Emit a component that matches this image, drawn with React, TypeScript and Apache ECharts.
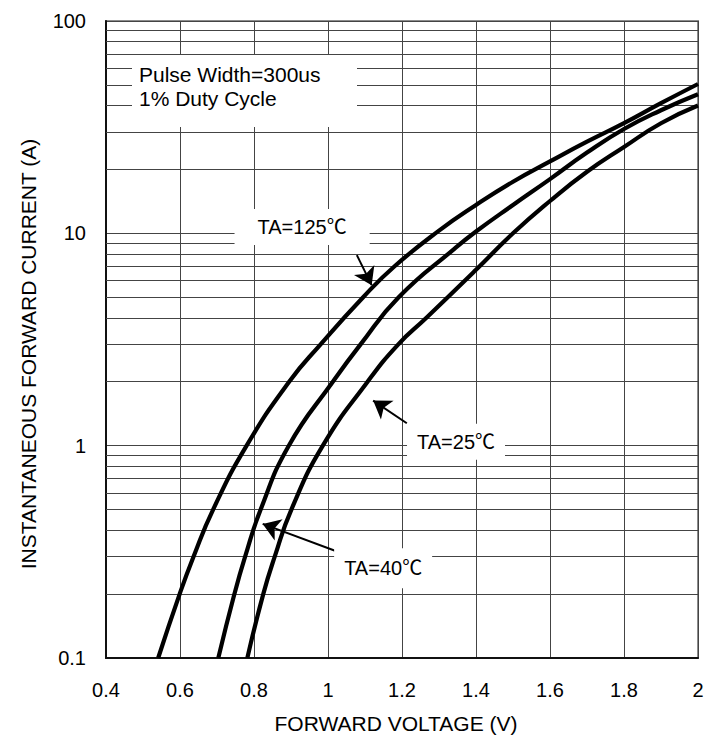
import React, { useEffect, useRef } from 'react';
import * as echarts from 'echarts';

// ---- data ----
const xMin = 0.4;
const xMax = 2;
const xStep = 0.2;
const yMin = 0.1;
const yMax = 100;
const minorGridValues = [0.2, 0.3, 0.4, 0.5, 0.6, 0.7, 0.8, 0.9, 2, 3, 4, 5, 6, 7, 8, 9, 20, 30, 40, 50, 60, 70, 80, 90];

// TA = 125 °C
const curve125: [number, number][] = [
  [0.541, 0.1], [0.599, 0.2], [0.6365, 0.3], [0.6895, 0.5], [0.78, 1.0], [0.895, 2],
  [0.98, 3], [1.095, 5], [1.18, 7], [1.3, 10.3], [1.4, 13.6], [1.5, 17.5], [1.6, 21.8],
  [1.7, 27], [1.8, 33], [1.9, 41], [2.0, 50.5],
];
// TA = 40 °C
const curve40: [number, number][] = [
  [0.7035, 0.1], [0.747, 0.2], [0.776, 0.3], [0.818, 0.5], [0.894, 1.0], [1.013, 2],
  [1.088, 3], [1.191, 5], [1.343, 8.5], [1.4, 10.2], [1.5, 13.6], [1.6, 18.0],
  [1.7, 24], [1.8, 31], [1.9, 38], [2.0, 45.2],
];
// TA = 25 °C
const curve25: [number, number][] = [
  [0.782, 0.1], [0.825, 0.2], [0.856, 0.3], [0.901, 0.5], [0.986, 1.0],
  [1.107, 2], [1.19, 3], [1.266, 4], [1.4, 6.73], [1.5, 10], [1.6, 14.2], [1.7, 19.5],
  [1.8, 25.5], [1.9, 33], [2.0, 40],
];

const curveLabels = ['TA=125℃', 'TA=25℃', 'TA=40℃'];
const labelAnchors: [number, number][] = [[0.93, 10.7], [1.346, 1.044], [1.149, 0.2646]];
const arrowFrom: [number, number][] = [[1.078, 7.9], [1.213, 1.275], [1.019, 0.32]];
const arrowTo: [number, number][] = [[1.118, 5.7], [1.122, 1.63], [0.8235, 0.428]];

const noteLines = ['Pulse Width=300us', '1% Duty Cycle'];
const xTitle = 'FORWARD VOLTAGE (V)';
const yTitle = 'INSTANTANEOUS FORWARD CURRENT (A)';

// ---- layout / style ----
const FONT = '"Liberation Sans", Arial, "Noto Sans CJK SC", sans-serif';
const W = 718;
const H = 741;
const GRID = { left: 106, top: 21, right: 20, bottom: 83 };
const labelPadding: [number, number][] = [[8, 23], [8, 10], [10, 10]];
const GRIDLINE = '#444';

const fmt = (v: number) => String(parseFloat(Number(v).toPrecision(6)));

export default function App() {
  const ref = useRef<HTMLDivElement>(null);

  useEffect(() => {
    if (!ref.current) return;
    const chart = echarts.init(ref.current, undefined, { renderer: 'svg' });

    const curveSeries = (data: [number, number][], name: string) => ({
      type: 'line',
      name,
      data,
      smooth: 0.5,
      showSymbol: false,
      symbol: 'none',
      z: 3,
      lineStyle: { color: '#000', width: 4.2 },
      silent: true,
    });

    chart.setOption({
      animation: false,
      backgroundColor: '#fff',
      grid: {
        ...GRID,
        show: true,
        borderColor: '#8c8c8c',
        borderWidth: 2,
        backgroundColor: 'transparent',
      },
      xAxis: {
        type: 'value',
        min: xMin,
        max: xMax,
        interval: xStep,
        axisLine: { show: true, lineStyle: { color: '#111', width: 2 } },
        axisTick: { show: false },
        splitLine: { show: true, lineStyle: { color: GRIDLINE, width: 1 } },
        axisLabel: {
          color: '#000',
          fontSize: 20,
          fontFamily: FONT,
          margin: 22,
          formatter: (v: number) => fmt(v),
        },
      },
      yAxis: {
        type: 'log',
        logBase: 10,
        min: yMin,
        max: yMax,
        axisLine: { show: true, lineStyle: { color: '#111', width: 2 } },
        axisTick: { show: false },
        splitLine: { show: true, lineStyle: { color: GRIDLINE, width: 1 } },
        axisLabel: {
          color: '#000',
          fontSize: 20,
          fontFamily: FONT,
          margin: 20,
          formatter: (v: number) => fmt(v),
        },
      },
      series: [
        {
          type: 'line',
          name: 'grid',
          data: [],
          z: 1,
          silent: true,
          markLine: {
            z: 1,
            silent: true,
            symbol: ['none', 'none'],
            label: { show: false },
            lineStyle: { color: GRIDLINE, width: 1, type: 'solid' },
            data: minorGridValues.map((v) => ({ yAxis: v })),
          },
        },
        curveSeries(curve125, '125'),
        curveSeries(curve40, '40'),
        curveSeries(curve25, '25'),
        {
          type: 'line',
          name: 'arrows',
          data: [],
          z: 20,
          silent: true,
          markLine: {
            z: 20,
            silent: true,
            symbol: ['none', 'arrow'],
            symbolSize: 17,
            label: { show: false },
            lineStyle: { color: '#000', width: 2, type: 'solid' },
            data: arrowFrom.map((f, i) => [
              { coord: f },
              { coord: arrowTo[i] },
            ]),
          },
        },
      ],
    });

    const graphics: any[] = [];
    curveLabels.forEach((t, i) => {
      const p = chart.convertToPixel({ gridIndex: 0 }, labelAnchors[i]) as number[];
      graphics.push({
        type: 'text',
        x: p[0],
        y: p[1],
        z: 50,
        style: {
          text: t,
          fill: '#000',
          font: `20px ${FONT}`,
          align: 'center',
          verticalAlign: 'middle',
          textAlign: 'center',
          textVerticalAlign: 'middle',
          backgroundColor: '#fff',
          padding: labelPadding[i],
        },
      });
    });

    // note box
    graphics.push({
      type: 'rect',
      z: 50,
      shape: { x: 132, y: 55, width: 225, height: 72 },
      style: { fill: '#fff' },
    });
    noteLines.forEach((t, i) => {
      graphics.push({
        type: 'text',
        z: 51,
        x: 139,
        y: 74 + i * 24,
        style: {
          text: t,
          fill: '#000',
          font: `21px ${FONT}`,
          align: 'left',
          verticalAlign: 'middle',
          textAlign: 'left',
          textVerticalAlign: 'middle',
        },
      });
    });

    // axis titles
    graphics.push({
      type: 'text',
      x: 396,
      y: 723,
      style: {
        text: xTitle,
        fill: '#000',
        font: `21px ${FONT}`,
        align: 'center',
        verticalAlign: 'middle',
        textAlign: 'center',
        textVerticalAlign: 'middle',
      },
    });
    graphics.push({
      type: 'text',
      x: 28,
      y: 354,
      rotation: Math.PI / 2,
      style: {
        text: yTitle,
        fill: '#000',
        font: `21px ${FONT}`,
        align: 'center',
        verticalAlign: 'middle',
        textAlign: 'center',
        textVerticalAlign: 'middle',
      },
    });

    chart.setOption({ graphic: graphics });

    return () => chart.dispose();
  }, []);

  return (
    <div
      ref={ref}
      style={{ position: 'fixed', left: 0, top: 0, width: W, height: H, background: '#fff' }}
    />
  );
}
